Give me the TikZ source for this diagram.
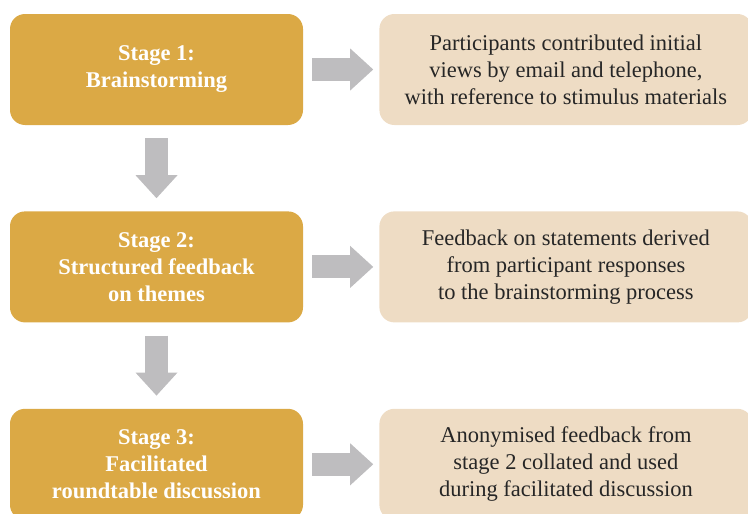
\documentclass[tikz,border=0pt]{standalone}
\usepackage{fontspec}
\setmainfont{Liberation Serif}
\newfontfamily\stagefont{Liberation Serif}
\usetikzlibrary{positioning, arrows.meta}

\definecolor{stagegold}{RGB}{219,169,69}
\definecolor{notesand}{RGB}{238,220,196}
\definecolor{arrowgrey}{RGB}{190,189,191}

\tikzset{
  stage/.style={rectangle, rounded corners=15bp, fill=stagegold, text=white,
    font=\stagefont\bfseries\fontsize{22.5bp}{27bp}\selectfont, align=center,
    minimum width=293bp, minimum height=111bp, inner sep=0pt},
  note/.style={rectangle, rounded corners=15bp, fill=notesand, text=black!85,
    font=\stagefont\fontsize{22.5bp}{27bp}\selectfont, align=center,
    minimum width=373bp, minimum height=111bp, inner sep=0pt},
  flow/.style={draw=arrowgrey, line width=23bp,
    -{Triangle[width=42bp, length=23bp, line width=0pt, fill=arrowgrey]}}
}

\begin{document}
\begin{tikzpicture}
  \useasboundingbox (0,0) rectangle (748bp,-514bp);
  \node[stage] (stage_one) at (156.5bp,-69.5bp) {Stage 1:\\Brainstorming};
\node[stage, below=86bp of stage_one] (stage_two) {Stage 2:\\Structured feedback\\on themes};
\node[stage, below=86bp of stage_two] (stage_three) {Stage 3:\\Facilitated\\roundtable discussion};
\node[note, right=76bp of stage_one] (views) {Participants contributed initial\\views by email and telephone,\\with reference to stimulus materials};
\node[note, right=76bp of stage_two] (statements) {Feedback on statements derived\\from participant responses\\to the brainstorming process};
\node[note, right=76bp of stage_three] (collated) {Anonymised feedback from\\stage 2 collated and used\\during facilitated discussion};
\path
	(stage_one.east) edge [flow, shorten <=9bp, shorten >=6bp] (views.west)
	(stage_two.east) edge [flow, shorten <=9bp, shorten >=6bp] (statements.west)
	(stage_three.east) edge [flow, shorten <=9bp, shorten >=6bp] (collated.west)
	(stage_one.south) edge [flow, shorten <=13bp, shorten >=13bp] (stage_two.north)
	(stage_two.south) edge [flow, shorten <=13bp, shorten >=13bp] (stage_three.north)
;
\end{tikzpicture}
\end{document}
